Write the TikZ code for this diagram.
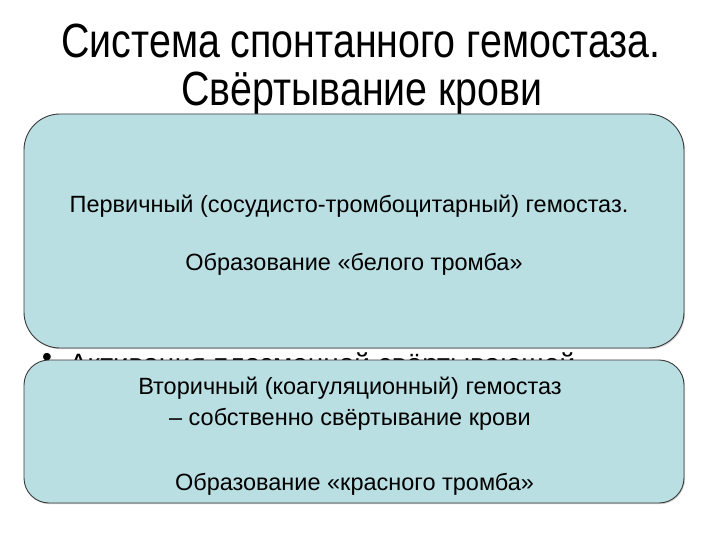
\documentclass[tikz,border=0pt]{standalone}
\usepackage{fontspec}
\setmainfont{Liberation Sans}
\newfontfamily\narrowfont{Liberation Sans}[FakeStretch=0.82]
\definecolor{boxfill}{HTML}{B9DFE3}
\definecolor{boxline}{HTML}{3A3A3A}
\tikzset{
  stagebox/.style={draw=boxline, line width=0.9pt, fill=boxfill},
  boxtext/.style={font=\fontsize{23.5}{28}\selectfont, anchor=base, text=black, inner sep=0pt},
  titletext/.style={font=\narrowfont\fontsize{48}{50}\selectfont, anchor=base, inner sep=0pt},
}
\begin{document}
\begin{tikzpicture}[x=1pt,y=-1pt]
\useasboundingbox (0,0) rectangle (720,540);
\fill[white] (0,0) rectangle (720,540);
% title
\node[titletext] (t1) at (361,58) {Система спонтанного гемостаза.};
\node[titletext] (t2) at (362,106) {Свёртывание крови};
% hidden bullet line (partly covered by the second box)
\node[font=\fontsize{28}{30}\selectfont, anchor=base west, inner sep=0pt] (bl) at (42,373) {\raisebox{7pt}{•}\hspace{17pt}Активация плазменной свёртывающей};
% box 1
\fill[gray!35] (25,115) [rounded corners=36pt] rectangle (685,349.2);
\path[stagebox, rounded corners=36pt] (24,114) rectangle (684,348);
\node[boxtext] (p1) at (349,212) {Первичный (сосудисто-тромбоцитарный) гемостаз.};
\node[boxtext] (p2) at (354,270) {Образование «белого тромба»};
% box 2
\fill[gray!35] (25,361) [rounded corners=25pt] rectangle (685,504.2);
\path[stagebox, rounded corners=25pt] (24,360) rectangle (684,503);
\node[boxtext] (s1) at (350,394) {Вторичный (коагуляционный) гемостаз};
\node[boxtext] (s2) at (350,425) {– собственно свёртывание крови};
\node[boxtext] (s3) at (354.5,490) {Образование «красного тромба»};
\end{tikzpicture}
\end{document}
